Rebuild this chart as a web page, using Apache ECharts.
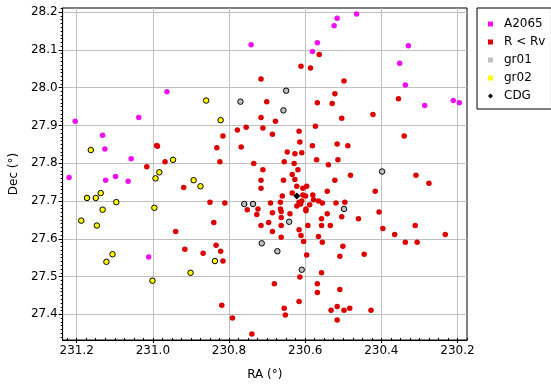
<!DOCTYPE html>
<html>
<head>
<meta charset="utf-8">
<script src="https://cdn.jsdelivr.net/npm/echarts@6/dist/echarts.min.js"></script>
<style>html,body{margin:0;padding:0;background:#fff}#c{width:551px;height:386px}</style>
</head>
<body>
<div id="c"></div>
<script>
// ---- data ----
var a2065Ra  = [231.220, 231.204, 231.132, 231.126, 231.124, 231.098, 231.057, 231.065, 231.037, 230.963, 231.011, 230.742,
                230.516, 230.465, 230.524, 230.568, 230.581, 230.329, 230.352, 230.337, 230.286, 230.211, 230.195];
var a2065Dec = [27.7625, 27.911, 27.874, 27.838, 27.755, 27.765, 27.812, 27.752, 27.921, 27.989, 27.552, 28.114,
                28.184, 28.195, 28.164, 28.119, 28.096, 28.111, 28.065, 28.007, 27.953, 27.966, 27.960];

var rvRa  = [231.016, 230.990, 230.988, 230.968, 230.919, 230.832, 230.824, 230.816, 230.778, 230.755, 230.768, 230.735,
             230.850, 230.811, 230.940, 230.840, 230.916, 230.834, 230.822, 230.868, 230.816, 230.819, 230.791, 230.740, 230.752,
             230.563, 230.611, 230.586, 230.716, 230.498, 230.522, 230.701, 230.568, 230.529, 230.355, 230.422, 230.504,
             230.716, 230.678, 230.711, 230.686, 230.616, 230.573, 230.340, 230.614, 230.581, 230.516, 230.488, 230.647,
             230.627, 230.609, 230.655, 230.629, 230.570, 230.514, 230.539, 230.711, 230.619, 230.634, 230.481, 230.309,
             230.275, 230.716, 230.657, 230.627, 230.522, 230.716, 230.596, 230.606, 230.542, 230.416, 230.634, 230.660,
             230.622, 230.606, 230.599, 230.580, 230.578, 230.565, 230.555, 230.519, 230.496, 230.616, 230.609, 230.622,
             230.612, 230.598, 230.598, 230.588, 230.691, 230.724, 230.727, 230.716, 230.696, 230.686, 230.686, 230.665,
             230.665, 230.663, 230.663, 230.663, 230.663, 230.640, 230.542, 230.504, 230.557, 230.557, 230.534, 230.593,
             230.616, 230.611, 230.604, 230.565, 230.555, 230.596, 230.501, 230.509, 230.460, 230.445, 230.406, 230.396,
             230.365, 230.337, 230.306, 230.311, 230.232, 230.557, 230.614, 230.681, 230.568, 230.568, 230.509, 230.616,
             230.655, 230.652, 230.532, 230.516, 230.498, 230.483, 230.427, 230.516];
var rvDec = [27.791, 27.847, 27.845, 27.804, 27.736, 27.841, 27.804, 27.872, 27.888, 27.895, 27.843, 27.799,
             27.697, 27.695, 27.619, 27.643, 27.572, 27.583, 27.567, 27.562, 27.541, 27.424, 27.390, 27.348, 27.677,
             28.088, 28.057, 28.052, 28.023, 28.018, 27.984, 27.963, 27.960, 27.958, 27.971, 27.929, 27.919,
             27.921, 27.911, 27.893, 27.877, 27.885, 27.898, 27.872, 27.856, 27.846, 27.851, 27.846, 27.830,
             27.825, 27.828, 27.804, 27.799, 27.809, 27.809, 27.796, 27.783, 27.783, 27.770, 27.768, 27.768,
             27.747, 27.755, 27.755, 27.757, 27.755, 27.734, 27.739, 27.734, 27.726, 27.726, 27.721, 27.713,
             27.739, 27.716, 27.713, 27.716, 27.703, 27.700, 27.695, 27.695, 27.697, 27.697, 27.700, 27.687,
             27.692, 27.679, 27.674, 27.690, 27.695, 27.679, 27.664, 27.635, 27.643, 27.669, 27.619, 27.697,
             27.679, 27.672, 27.656, 27.635, 27.604, 27.666, 27.666, 27.658, 27.653, 27.635, 27.635, 27.635,
             27.624, 27.609, 27.593, 27.606, 27.591, 27.557, 27.580, 27.554, 27.653, 27.559, 27.671, 27.627,
             27.611, 27.591, 27.591, 27.635, 27.611, 27.510, 27.499, 27.481, 27.481, 27.458, 27.466, 27.434,
             27.416, 27.398, 27.411, 27.421, 27.411, 27.416, 27.411, 27.385];

var gr01Ra  = [230.770, 230.650, 230.657, 230.398, 230.760, 230.737, 230.642, 230.714, 230.673, 230.609, 230.498];
var gr01Dec = [27.963, 27.992, 27.940, 27.778, 27.692, 27.692, 27.645, 27.588, 27.567, 27.518, 27.679];

var gr02Ra  = [231.163, 231.137, 230.993, 230.983, 230.947, 230.893, 230.875, 230.860, 230.822, 231.173, 231.150,
               231.188, 231.132, 231.147, 231.096, 231.106, 231.122, 230.996, 231.001, 230.901, 230.837];
var gr02Dec = [27.835, 27.721, 27.760, 27.776, 27.809, 27.755, 27.739, 27.966, 27.914, 27.708, 27.708,
               27.648, 27.677, 27.635, 27.697, 27.559, 27.539, 27.682, 27.489, 27.510, 27.541];

var cdgRa  = [230.622];
var cdgDec = [27.713];

var xTicks = [231.2, 231.0, 230.8, 230.6, 230.4, 230.2];
var yTicks = [27.4, 27.5, 27.6, 27.7, 27.8, 27.9, 28.0, 28.1, 28.2];

// ---- build ----
var X_MIN = 230.175, X_MAX = 231.237, Y_MIN = 27.332, Y_MAX = 28.211;
function zip(a, b) { return a.map(function (v, i) { return [v, b[i]]; }); }
function minorVals(lo, hi, step) {
  var out = [];
  var start = Math.ceil(lo / step - 1e-9);
  for (var k = start; k * step <= hi + 1e-9; k++) out.push(+(k * step).toFixed(4));
  return out;
}
var xMinor = minorVals(X_MIN, X_MAX, 0.025);
var yMinor = minorVals(Y_MIN, Y_MAX, 0.01);

var FONT = 'DejaVu Sans';
var chart = echarts.init(document.getElementById('c'), null, {renderer: 'canvas'});
chart.setOption({
  animation: false,
  backgroundColor: '#ffffff',
  textStyle: {fontFamily: FONT},
  grid: {left: 53, top: 8, width: 414, height: 338, show: true, borderColor: '#000', borderWidth: 1, backgroundColor: '#fff'},
  legend: {
    orient: 'vertical', left: 477, top: 8,
    padding: [9, 6, 6, 11],
    itemGap: 4, itemWidth: 5, itemHeight: 5,
    borderColor: '#000', borderWidth: 1, borderRadius: 0,
    textStyle: {fontFamily: FONT, fontSize: 12, color: '#000', lineHeight: 14, padding: [0, 0, 0, 6]},
    itemStyle: {borderWidth: 0},
    data: [
      {name: 'A2065', icon: 'rect'},
      {name: 'R < Rv', icon: 'rect'},
      {name: 'gr01', icon: 'rect'},
      {name: 'gr02', icon: 'rect'},
      {name: 'CDG', icon: 'diamond'}
    ]
  },
  xAxis: [{
    type: 'value', inverse: true, min: X_MIN, max: X_MAX, position: 'bottom',
    name: 'RA (°)', nameLocation: 'middle', nameGap: 29,
    nameTextStyle: {fontFamily: FONT, fontSize: 12, color: '#000'},
    axisLine: {show: true, lineStyle: {color: '#000', width: 1}},
    axisTick: {show: true, customValues: xTicks, length: 3, lineStyle: {color: '#000'}},
    axisLabel: {customValues: xTicks, color: '#000', fontSize: 12, fontFamily: FONT, margin: 5,
                formatter: function (v) { return v.toFixed(1); }},
    splitLine: {show: true, lineStyle: {color: '#c0c0c0', width: 1}}
  }, {
    type: 'value', inverse: true, min: X_MIN, max: X_MAX, position: 'bottom',
    axisLine: {show: false},
    axisTick: {show: true, customValues: xMinor, inside: true, length: 2, lineStyle: {color: '#000'}},
    axisLabel: {show: false},
    splitLine: {show: false}
  }],
  yAxis: [{
    type: 'value', min: Y_MIN, max: Y_MAX, position: 'left',
    name: 'Dec (°)', nameLocation: 'middle', nameGap: 40, nameRotate: 90,
    nameTextStyle: {fontFamily: FONT, fontSize: 12, color: '#000'},
    axisLine: {show: true, lineStyle: {color: '#000', width: 1}},
    axisTick: {show: true, customValues: yTicks, length: 4, lineStyle: {color: '#000'}},
    axisLabel: {customValues: yTicks, color: '#000', fontSize: 12, fontFamily: FONT, margin: 5,
                formatter: function (v) { return v.toFixed(1); }},
    splitLine: {show: true, lineStyle: {color: '#c0c0c0', width: 1}}
  }, {
    type: 'value', min: Y_MIN, max: Y_MAX, position: 'left',
    axisLine: {show: false},
    axisTick: {show: true, customValues: yMinor, length: 2, lineStyle: {color: '#000'}},
    axisLabel: {show: false},
    splitLine: {show: false}
  }],
  series: [
    {name: 'A2065', type: 'scatter', symbol: 'circle', symbolSize: 5.5, data: zip(a2065Ra, a2065Dec),
     itemStyle: {color: '#f010f0', opacity: 1}},
    {name: 'R < Rv', type: 'scatter', symbol: 'circle', symbolSize: 5.5, data: zip(rvRa, rvDec),
     itemStyle: {color: '#dd0000', opacity: 1}},
    {name: 'gr01', type: 'scatter', symbol: 'circle', symbolSize: 5.5, data: zip(gr01Ra, gr01Dec),
     itemStyle: {color: '#c0c0c0', borderColor: '#000', borderWidth: 1, opacity: 1}},
    {name: 'gr02', type: 'scatter', symbol: 'circle', symbolSize: 5.5, data: zip(gr02Ra, gr02Dec),
     itemStyle: {color: '#ffff00', borderColor: '#000', borderWidth: 1, opacity: 1}},
    {name: 'CDG', type: 'scatter', symbol: 'diamond', symbolSize: 7, data: zip(cdgRa, cdgDec),
     itemStyle: {color: '#000', opacity: 1}}
  ]
});
</script>
</body>
</html>
